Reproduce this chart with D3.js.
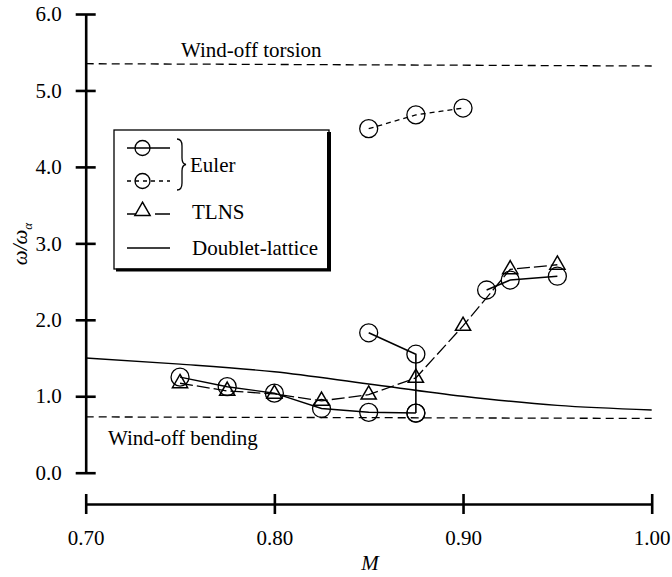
<!DOCTYPE html>
<html><head><meta charset="utf-8">
<script src="https://cdn.jsdelivr.net/npm/d3@7"></script>
<style>
html,body{margin:0;padding:0;background:#fff;}
svg{display:block;}
text{fill:#000;}
</style></head>
<body>
<svg id="chart" width="672" height="577"></svg>
<script>
// ---- data ----
const xTicks = [0.70, 0.80, 0.90, 1.00];
const xTickLabels = ["0.70", "0.80", "0.90", "1.00"];
const yTicks = [0, 1, 2, 3, 4, 5, 6];
const yTickLabels = ["0.0", "1.0", "2.0", "3.0", "4.0", "5.0", "6.0"];

const eulerLowerM = [0.75, 0.775, 0.80, 0.825, 0.85, 0.875];
const eulerLowerW = [1.25, 1.125, 1.04, 0.84, 0.79, 0.78];
const eulerBranchM = [0.85, 0.875, 0.875];
const eulerBranchW = [1.83, 1.55, 0.78];
const eulerRightM = [0.9125, 0.925, 0.95];
const eulerRightW = [2.39, 2.52, 2.57];
const eulerDashedM = [0.85, 0.875, 0.90];
const eulerDashedW = [4.50, 4.68, 4.77];
const tlnsM = [0.75, 0.775, 0.80, 0.825, 0.85, 0.875, 0.90, 0.925, 0.95];
const tlnsW = [1.17, 1.07, 1.03, 0.94, 1.02, 1.24, 1.92, 2.66, 2.72];
const doubletM = [0.70, 0.75, 0.80, 0.85, 0.90, 0.95, 1.00];
const doubletW = [1.50, 1.42, 1.32, 1.16, 1.00, 0.88, 0.82];
const torsionM = [0.70, 1.00];
const torsionW = [5.35, 5.32];
const bendingM = [0.70, 1.00];
const bendingW = [0.73, 0.71];

const zip = (a, b) => a.map((v, i) => [v, b[i]]);

const svg = d3.select("#chart");
const serif = "'Liberation Serif','Times New Roman','DejaVu Serif',serif";

const x = d3.scaleLinear().domain([0.70, 1.00]).range([85.7, 651.7]);
const y = d3.scaleLinear().domain([0, 6]).range([472.7, 14]);
const xAxisY = 504;

// ---- axes ----
const yAxis = svg.append("g").attr("transform", "translate(85.7,0)")
  .call(d3.axisLeft(y).tickValues(yTicks).tickFormat((d, i) => yTickLabels[i])
    .tickSizeOuter(0).tickSizeInner(10).tickPadding(14));
yAxis.select(".domain").attr("stroke", "#000").attr("stroke-width", 2.6);
yAxis.selectAll(".tick line").attr("x1", 10).attr("x2", -10).attr("stroke-width", 2.6);
yAxis.selectAll(".tick text").attr("font-family", serif).attr("font-size", 21).attr("fill", "#000");

const xAxis = svg.append("g").attr("transform", `translate(0,${xAxisY})`)
  .call(d3.axisBottom(x).tickValues(xTicks).tickFormat((d, i) => xTickLabels[i])
    .tickSizeOuter(0).tickSizeInner(10).tickPadding(16));
xAxis.select(".domain").attr("stroke", "#000").attr("stroke-width", 2.6);
xAxis.selectAll(".tick line").attr("y1", -10).attr("y2", 10).attr("stroke-width", 2.6);
xAxis.selectAll(".tick text").attr("font-family", serif).attr("font-size", 21).attr("fill", "#000");

// axis titles
svg.append("text").attr("x", 370).attr("y", 570).attr("text-anchor", "middle")
  .attr("font-family", serif).attr("font-size", 21).attr("font-style", "italic").text("M");
const yl = svg.append("text").attr("transform", "translate(27,244) rotate(-90)")
  .attr("text-anchor", "middle").attr("font-family", serif).attr("font-size", 21).attr("font-style", "italic");
yl.append("tspan").text("ω/ω");
yl.append("tspan").attr("font-size", 13).attr("dy", 5).text("α");

// ---- lines ----
const line = d3.line().x(d => x(d[0])).y(d => y(d[1]));
const plot = svg.append("g").attr("fill", "none").attr("stroke", "#000");

plot.append("path").attr("d", line(zip(torsionM, torsionW))).attr("stroke-width", 1.3).attr("stroke-dasharray", "8,5");
plot.append("path").attr("d", line(zip(bendingM, bendingW))).attr("stroke-width", 1.3).attr("stroke-dasharray", "8,5");
plot.append("path").attr("d", line.curve(d3.curveMonotoneX)(zip(doubletM, doubletW))).attr("stroke-width", 1.4);
line.curve(d3.curveLinear);
plot.append("path").attr("d", line(zip(eulerLowerM, eulerLowerW))).attr("stroke-width", 1.4);
plot.append("path").attr("d", line(zip(eulerBranchM, eulerBranchW))).attr("stroke-width", 1.6);
plot.append("path").attr("d", line(zip(eulerRightM, eulerRightW))).attr("stroke-width", 1.4);
plot.append("path").attr("d", line(zip(eulerDashedM, eulerDashedW))).attr("stroke-width", 1.3).attr("stroke-dasharray", "5,4");
plot.append("path").attr("d", line(zip(tlnsM, tlnsW))).attr("stroke-width", 1.3).attr("stroke-dasharray", "13,4");

// ---- markers ----
const circ = [].concat(zip(eulerLowerM, eulerLowerW), zip(eulerBranchM, eulerBranchW),
  zip(eulerRightM, eulerRightW), zip(eulerDashedM, eulerDashedW));
plot.selectAll("circle.m").data(circ).join("circle").attr("class", "m")
  .attr("cx", d => x(d[0])).attr("cy", d => y(d[1])).attr("r", 9).attr("stroke-width", 1.3);
const tri = d3.symbol(d3.symbolTriangle, 100);
plot.selectAll("path.t").data(zip(tlnsM, tlnsW)).join("path").attr("class", "t")
  .attr("transform", d => `translate(${x(d[0])},${y(d[1])})`).attr("d", tri).attr("stroke-width", 1.5);

// ---- annotations ----
svg.append("text").attr("x", 181).attr("y", 57).attr("font-family", serif).attr("font-size", 21).text("Wind-off torsion");
svg.append("text").attr("x", 108).attr("y", 445).attr("font-family", serif).attr("font-size", 21).text("Wind-off bending");

// ---- legend ----
const lg = svg.append("g");
lg.append("rect").attr("x", 114).attr("y", 130).attr("width", 215).attr("height", 139)
  .attr("fill", "#fff").attr("stroke", "#000").attr("stroke-width", 1.3);
lg.append("line").attr("x1", 329).attr("x2", 329).attr("y1", 132).attr("y2", 271).attr("stroke", "#000").attr("stroke-width", 4);
lg.append("line").attr("x1", 116).attr("x2", 331).attr("y1", 270).attr("y2", 270).attr("stroke", "#000").attr("stroke-width", 3);
const lx1 = 127, lx2 = 170, lcx = 142.5;
lg.append("line").attr("x1", lx1).attr("x2", lx2).attr("y1", 148).attr("y2", 148).attr("stroke", "#000").attr("stroke-width", 1.3);
lg.append("circle").attr("cx", lcx).attr("cy", 148).attr("r", 7.5).attr("fill", "none").attr("stroke", "#000").attr("stroke-width", 1.3);
lg.append("line").attr("x1", lx1).attr("x2", lx2).attr("y1", 181).attr("y2", 181).attr("stroke", "#000").attr("stroke-width", 1.3).attr("stroke-dasharray", "4,4");
lg.append("circle").attr("cx", lcx).attr("cy", 181).attr("r", 7.5).attr("fill", "none").attr("stroke", "#000").attr("stroke-width", 1.3);
lg.append("line").attr("x1", lx1).attr("x2", lx2).attr("y1", 214).attr("y2", 214).attr("stroke", "#000").attr("stroke-width", 1.3).attr("stroke-dasharray", "23,5");
lg.append("path").attr("transform", `translate(${lcx},211)`).attr("d", tri).attr("fill", "#fff").attr("stroke", "#000").attr("stroke-width", 1.5);
lg.append("line").attr("x1", lx1).attr("x2", lx2).attr("y1", 248).attr("y2", 248).attr("stroke", "#000").attr("stroke-width", 1.3);
// brace
lg.append("path").attr("d", "M177,139 Q182,139 182,146 L182,158 Q182,164 186,164.5 Q182,165 182,171 L182,183 Q182,190 177,190")
  .attr("fill", "none").attr("stroke", "#000").attr("stroke-width", 1.3);
lg.append("text").attr("x", 190).attr("y", 172).attr("font-family", serif).attr("font-size", 21).text("Euler");
lg.append("text").attr("x", 192).attr("y", 219).attr("font-family", serif).attr("font-size", 21).text("TLNS");
lg.append("text").attr("x", 192).attr("y", 255).attr("font-family", serif).attr("font-size", 21).text("Doublet-lattice");
</script>
</body></html>
